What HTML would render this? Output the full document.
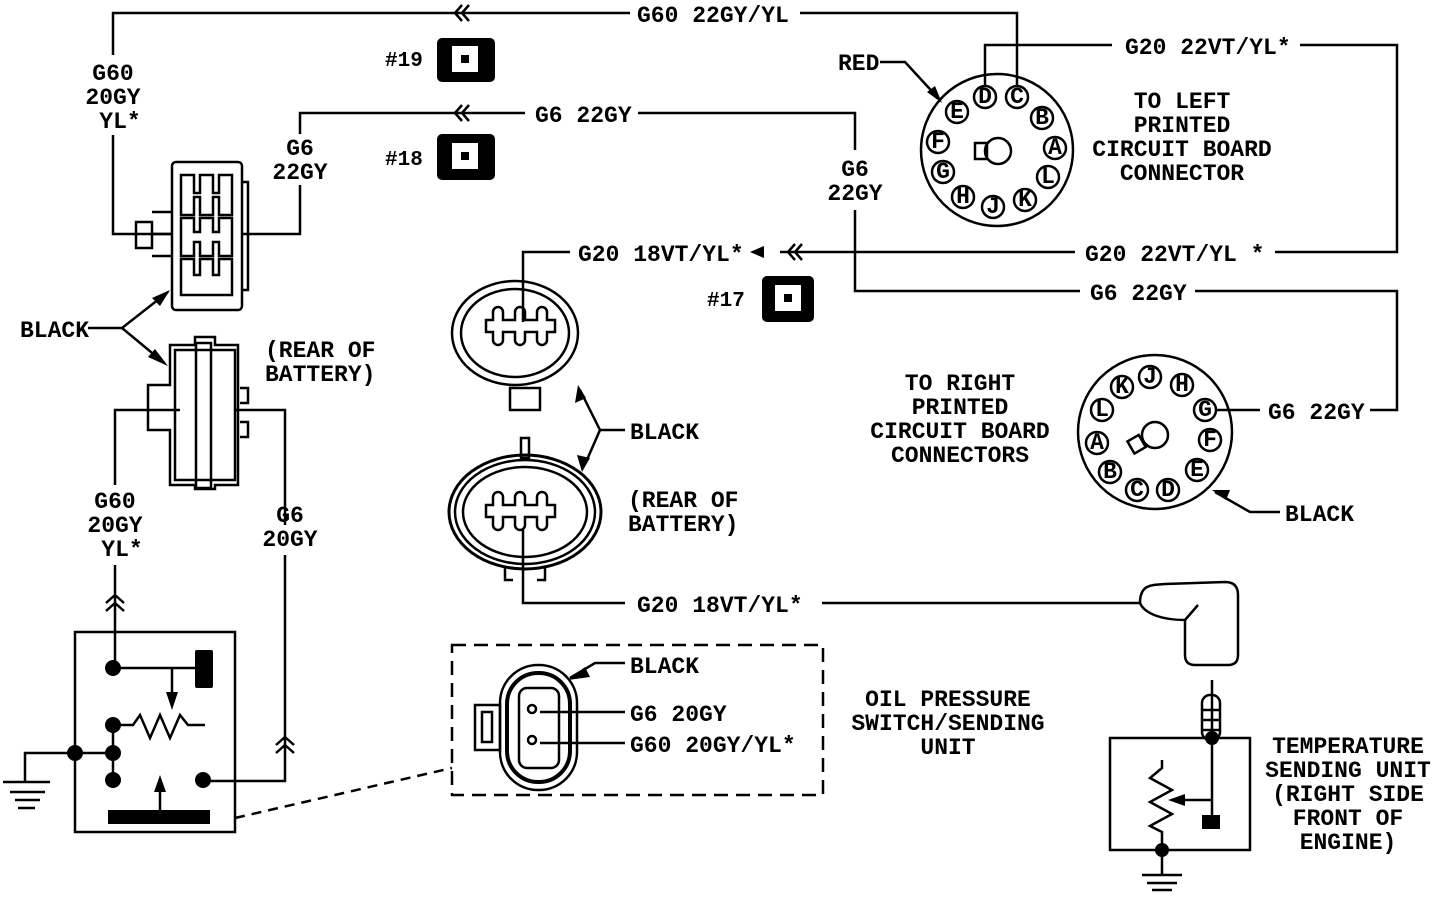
<!DOCTYPE html>
<html><head><meta charset="utf-8"><style>
html,body{margin:0;padding:0;background:#fff;}
svg{display:block}
text{font-family:"Liberation Mono",monospace;font-weight:bold;font-size:23px;fill:#000}
</style></head><body>
<svg width="1440" height="898" viewBox="0 0 1440 898" xmlns="http://www.w3.org/2000/svg">
<g fill="none" stroke="#000" stroke-width="2.5">
<polyline points="113,55 113,13 630,13"/>
<polyline points="800,13 1017,13 1017,86"/>
<path d="M462,5 L455,13 L462,21 M469,5 L462,13 L469,21"/>
<polyline points="113,135 113,234 172,234"/>
<polyline points="300,134 300,113 525,113"/>
<polyline points="638,113 855,113 855,150"/>
<path d="M462,105 L455,113 L462,121 M469,105 L462,113 L469,121"/>
<polyline points="300,185 300,234 243,234"/>
<polyline points="855,210 855,291 1080,291"/>
<polyline points="1195,291 1397,291 1397,410 1370,410"/>
<line x1="1216" y1="410" x2="1260" y2="410"/>
<polyline points="985,86 985,45 1112,45"/>
<polyline points="1300,45 1397,45 1397,252 1275,252"/>
<line x1="1075" y1="252" x2="780" y2="252"/>
<path d="M795,244 L788,252 L795,260 M802,244 L795,252 L802,260"/>
<polyline points="570,252 523,252 523,322"/>
<polyline points="523,530 523,603 625,603"/>
<polyline points="822,603 1140,603"/>
<polyline points="180,410 115,410 115,485"/>
<line x1="115" y1="565" x2="115" y2="668"/>
<path d="M106,603 L115,595 L124,603 M106,611 L115,603 L124,611"/>
<polyline points="235,410 285,410 285,525"/>
<polyline points="285,555 285,781 205,781"/>
<path d="M276,745 L285,737 L294,745 M276,753 L285,745 L294,753"/>
<rect x="75" y="632" width="160" height="200"/>
<line x1="113" y1="668" x2="197" y2="668"/>
<line x1="172" y1="668" x2="172" y2="692"/>
<polyline points="120,725 133,725 140,715 150,738 160,715 170,738 180,715 188,725 205,725"/>
<line x1="113" y1="725" x2="113" y2="780"/>
<line x1="75" y1="753" x2="113" y2="753"/>
<polyline points="75,753 25,753 25,782"/>
<line x1="3" y1="782" x2="50" y2="782"/><line x1="10" y1="792" x2="45" y2="792"/><line x1="15" y1="800" x2="40" y2="800"/><line x1="18" y1="808" x2="35" y2="808"/>
<line x1="160" y1="810" x2="160" y2="790"/>
<line x1="235" y1="818" x2="452" y2="768" stroke-dasharray="10,7"/>
<rect x="452" y="645" width="371" height="150" stroke-dasharray="14,8"/>
<rect x="500" y="665" width="77" height="125" rx="38"/>
<rect x="507" y="673" width="63" height="109" rx="31" stroke-width="4"/>
<rect x="519" y="688" width="40" height="80" rx="8"/>
<rect x="475" y="705" width="25" height="45"/>
<rect x="482" y="712" width="10" height="30"/>
<circle cx="532" cy="709" r="4"/><circle cx="532" cy="740" r="4"/>
<line x1="540" y1="712" x2="625" y2="712"/>
<line x1="540" y1="743" x2="625" y2="743"/>
<polyline points="570,678 595,663 625,663"/>
<ellipse cx="515" cy="333" rx="63" ry="52"/>
<ellipse cx="515" cy="333" rx="54" ry="44"/>
<rect x="510" y="388" width="30" height="22"/>
<path d="M493,320 v-8 a5,5 0 0 1 10,0 v8 h12 v-8 a5,5 0 0 1 10,0 v8 h12 v-8 a5,5 0 0 1 10,0 v8 h8 v12 h-8 v8 a5,5 0 0 1 -10,0 v-8 h-12 v8 a5,5 0 0 1 -10,0 v-8 h-12 v8 a5,5 0 0 1 -10,0 v-8 h-7 v-12 z"/>
<ellipse cx="525" cy="512" rx="76" ry="57" stroke-width="3"/>
<ellipse cx="525" cy="512" rx="70" ry="52"/>
<ellipse cx="525" cy="512" rx="62" ry="45"/>
<rect x="521" y="438" width="8" height="20"/>
<path d="M505,568 v12 h8 M545,568 v12 h-8"/>
<path d="M493,505 v-8 a5,5 0 0 1 10,0 v8 h12 v-8 a5,5 0 0 1 10,0 v8 h12 v-8 a5,5 0 0 1 10,0 v8 h8 v12 h-8 v8 a5,5 0 0 1 -10,0 v-8 h-12 v8 a5,5 0 0 1 -10,0 v-8 h-12 v8 a5,5 0 0 1 -10,0 v-8 h-7 v-12 z"/>
<polyline points="625,430 600,430 580,390"/>
<line x1="600" y1="430" x2="586" y2="462"/>
<rect x="172" y="162" width="70" height="148" rx="4"/>
<path d="M242,182 h6 v108 h-6"/>
<rect x="136" y="222" width="16" height="26"/>
<path d="M152,212 h20 M152,234 h20 M152,256 h20"/>
<!-- H cavities -->
<path d="M181,175 h13 v18 h6 v-18 h13 v18 h6 v-18 h13 v40 h-13 v-18 h-6 v18 h-13 v-18 h-6 v18 h-13 z"/>
<path d="M181,218 h13 v14 h6 v-14 h13 v14 h6 v-14 h13 v38 h-13 v-14 h-6 v14 h-13 v-14 h-6 v14 h-13 z"/>
<path d="M181,259 h13 v16 h6 v-16 h13 v16 h6 v-16 h13 v36 h-32 h-19 z"/>
<polyline points="88,328 122,328 168,292"/>
<line x1="122" y1="328" x2="163" y2="362"/>
<path d="M170,345 h25 v-8 h20 v8 h23 v140 h-23 v4 h-20 v-4 h-25 v-55 h-22 v-45 h22 z"/>
<path d="M175,350 h60 v130 h-60 z"/>
<rect x="196" y="343" width="15" height="145"/>
<path d="M240,388 h8 v15 h-8 M240,422 h8 v15 h-8"/>
<path d="M1140,603 C1140,585 1150,585 1165,584 L1225,582 Q1238,582 1238,595 L1238,655 Q1238,665 1228,665 L1195,665 Q1185,665 1185,655 L1185,620 L1198,605 M1185,620 C1165,620 1145,615 1140,603"/>
<rect x="1110" y="738" width="140" height="112"/>
<line x1="1212" y1="680" x2="1212" y2="820"/>
<rect x="1202" y="695" width="18" height="45" rx="8"/>
<path d="M1203,710 h16 M1203,720 h16 M1203,730 h16"/>
<polyline points="1162,760 1162,768 1150,778 1172,790 1150,802 1172,814 1150,826 1162,832 1162,875"/>
<line x1="1142" y1="875" x2="1182" y2="875"/><line x1="1147" y1="883" x2="1177" y2="883"/><line x1="1152" y1="890" x2="1172" y2="890"/>
<line x1="1185" y1="800" x2="1212" y2="800"/>
<circle cx="997" cy="150" r="76"/>
<circle cx="998" cy="151" r="13"/>
<rect x="975" y="143" width="12" height="16"/>
<polyline points="880,62 905,62 940,100"/>
<circle cx="1155" cy="432" r="77"/>
<circle cx="1155" cy="435" r="13"/>
<rect x="1130" y="437" width="13" height="14" transform="rotate(-30 1137 444)"/>
<polyline points="1280,512 1250,512 1215,492"/>
</g>
<g fill="#000">
<rect x="437" y="38" width="58" height="44" rx="5"/>
<rect x="437" y="134" width="58" height="46" rx="5"/>
<rect x="762" y="276" width="52" height="46" rx="5"/>
<g fill="#fff"><rect x="452" y="46" width="26" height="26"/><rect x="452" y="143" width="26" height="26"/><rect x="775" y="285" width="26" height="26"/></g>
<rect x="461" y="55" width="8" height="8"/><rect x="461" y="152" width="8" height="8"/><rect x="784" y="294" width="8" height="8"/>
<circle cx="113" cy="668" r="8"/><circle cx="113" cy="725" r="8"/><circle cx="113" cy="753" r="8"/><circle cx="75" cy="753" r="8"/><circle cx="113" cy="780" r="8"/><circle cx="203" cy="780" r="8"/>
<rect x="195" y="650" width="18" height="38" rx="2"/>
<rect x="108" y="810" width="102" height="14"/>
<polygon points="166,692 178,692 172,710"/>
<polygon points="154,792 166,792 160,775"/>
<circle cx="1212" cy="738" r="7"/><circle cx="1162" cy="850" r="7"/>
<rect x="1202" y="815" width="18" height="14"/>
<polygon points="1185,794 1185,806 1168,800"/>
<polygon points="170,290 152,298 160,306"/>
<polygon points="168,366 148,357 155,349"/>
<polygon points="578,385 575,403 586,398"/>
<polygon points="582,472 577,455 590,458"/>
<polygon points="568,680 585,667 590,677"/>
<polygon points="942,103 927,92 935,86"/>
<polygon points="1212,490 1230,490 1226,500"/>
<polygon points="750,252 764,246 764,258"/>
</g>
<g fill="#fff" stroke="#000" stroke-width="2.5">
<circle cx="985" cy="97" r="11"/><circle cx="1017" cy="97" r="11"/><circle cx="1042" cy="118" r="11"/><circle cx="1055" cy="148" r="11"/><circle cx="1048" cy="177" r="11"/><circle cx="1025" cy="200" r="11"/><circle cx="993" cy="207" r="11"/><circle cx="963" cy="197" r="11"/><circle cx="943" cy="172" r="11"/><circle cx="938" cy="142" r="11"/><circle cx="957" cy="112" r="11"/>
<circle cx="1150" cy="377" r="11"/><circle cx="1182" cy="385" r="11"/><circle cx="1205" cy="410" r="11"/><circle cx="1210" cy="440" r="11"/><circle cx="1197" cy="470" r="11"/><circle cx="1168" cy="490" r="11"/><circle cx="1137" cy="490" r="11"/><circle cx="1110" cy="472" r="11"/><circle cx="1097" cy="443" r="11"/><circle cx="1102" cy="410" r="11"/><circle cx="1122" cy="387" r="11"/>
</g>
<g style="font-size:15px" text-anchor="middle">
<text x="985" y="103">D</text><text x="1017" y="103">C</text><text x="1042" y="124">B</text><text x="1055" y="154">A</text><text x="1048" y="183">L</text><text x="1025" y="206">K</text><text x="993" y="213">J</text><text x="963" y="203">H</text><text x="943" y="178">G</text><text x="938" y="148">F</text><text x="957" y="118">E</text>
<text x="1150" y="383">J</text><text x="1182" y="391">H</text><text x="1205" y="416">G</text><text x="1210" y="446">F</text><text x="1197" y="476">E</text><text x="1168" y="496">D</text><text x="1137" y="496">C</text><text x="1110" y="478">B</text><text x="1097" y="449">A</text><text x="1102" y="416">L</text><text x="1122" y="393">K</text>
</g>
<text x="637" y="22">G60 22GY/YL</text>
<text x="385" y="66" style="font-size:21px">#19</text>
<text x="385" y="165" style="font-size:21px">#18</text>
<text x="707" y="306" style="font-size:21px">#17</text>
<text x="535" y="122">G6 22GY</text>
<g text-anchor="middle">
<text x="113" y="80">G60</text><text x="113" y="104">20GY</text><text x="120" y="128">YL*</text>
<text x="300" y="155">G6</text><text x="300" y="179">22GY</text>
<text x="855" y="176">G6</text><text x="855" y="200">22GY</text>
<text x="115" y="508">G60</text><text x="115" y="532">20GY</text><text x="122" y="556">YL*</text>
<text x="290" y="522">G6</text><text x="290" y="546">20GY</text>
<text x="1182" y="108">TO LEFT</text><text x="1182" y="132">PRINTED</text><text x="1182" y="156">CIRCUIT BOARD</text><text x="1182" y="180">CONNECTOR</text>
<text x="960" y="390">TO RIGHT</text><text x="960" y="414">PRINTED</text><text x="960" y="438">CIRCUIT BOARD</text><text x="960" y="462">CONNECTORS</text>
<text x="948" y="706">OIL PRESSURE</text><text x="948" y="730">SWITCH/SENDING</text><text x="948" y="754">UNIT</text>
<text x="1348" y="753">TEMPERATURE</text><text x="1348" y="777">SENDING UNIT</text><text x="1348" y="801">(RIGHT SIDE</text><text x="1348" y="825">FRONT OF</text><text x="1348" y="849">ENGINE)</text>
</g>
<text x="838" y="70">RED</text>
<text x="1125" y="54">G20 22VT/YL*</text>
<text x="1085" y="261">G20 22VT/YL *</text>
<text x="578" y="261">G20 18VT/YL*</text>
<text x="1090" y="300">G6 22GY</text>
<text x="1268" y="419">G6 22GY</text>
<text x="1285" y="521">BLACK</text>
<text x="20" y="337">BLACK</text>
<text x="265" y="357">(REAR OF</text><text x="265" y="381">BATTERY)</text>
<text x="630" y="439">BLACK</text>
<text x="628" y="507">(REAR OF</text><text x="628" y="531">BATTERY)</text>
<text x="637" y="612">G20 18VT/YL*</text>
<text x="630" y="673">BLACK</text>
<text x="630" y="721">G6 20GY</text>
<text x="630" y="752">G60 20GY/YL*</text>
</svg>
</body></html>
